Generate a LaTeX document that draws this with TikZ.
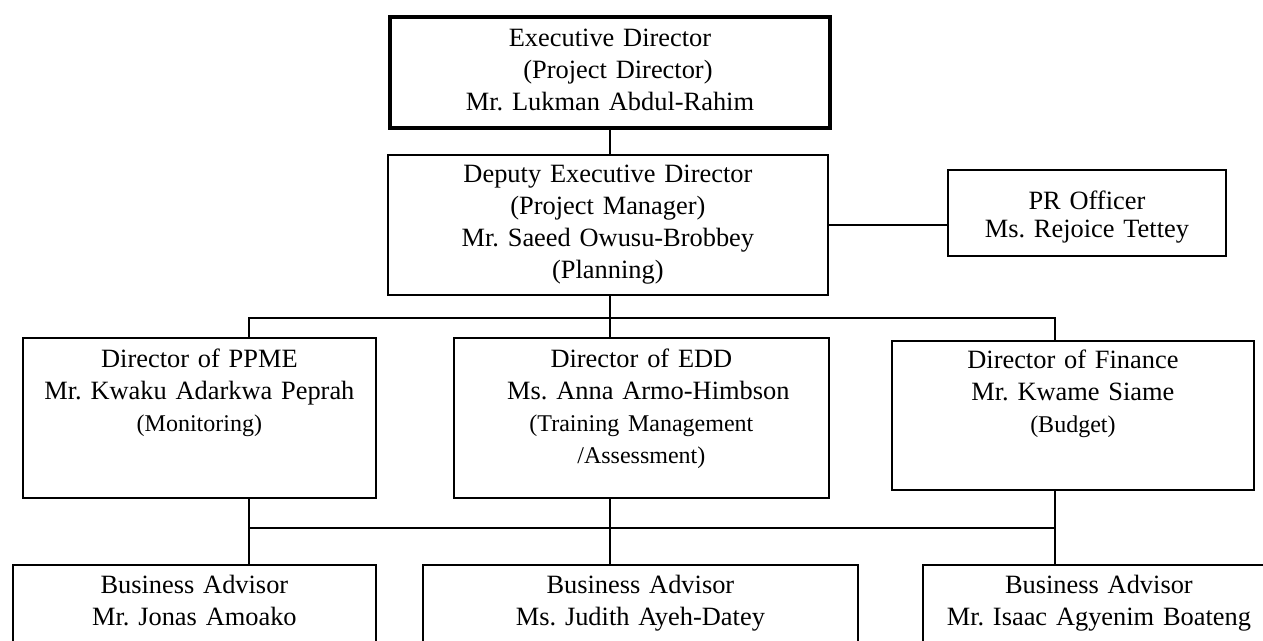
\documentclass[tikz,border=0pt]{standalone}
\usepackage{fontspec}
\setmainfont{Liberation Serif}
\usepackage{tikz}
\frenchspacing

\newcommand{\rolefont}{\fontsize{12}{16}\selectfont}

\begin{document}
\begin{tikzpicture}[x=0.5pt,y=-0.5pt,
		box/.style={draw,line width=0.9pt,anchor=north west,inner sep=0pt,align=center,
			font=\fontsize{13.2}{16}\selectfont,text height=15pt},
		link/.style={line width=0.9pt}]
		\useasboundingbox (0,0) rectangle (1263,641);
		% top level
		\node[box,line width=2pt,text width=220pt,text depth=40.5pt] (exec) at (388,15)
			{Executive Director\\\hspace*{8pt}(Project Director)\\Mr. Lukman Abdul-Rahim};
		\node[box,text width=220pt,text height=14pt,text depth=56pt] (deputy) at (387,154)
			{Deputy Executive Director\\(Project Manager)\\Mr. Saeed Owusu-Brobbey\\(Planning)};
		\node[box,text width=139pt,text height=20pt,text depth=23pt] (pr) at (947,169)
			{PR Officer\\[-2pt]Ms. Rejoice Tettey};
		% directors
		\node[box,text width=176.5pt,text depth=65pt] (ppme) at (22,337)
			{Director of PPME\\Mr. Kwaku Adarkwa Peprah\\{\rolefont (Monitoring)}};
		\node[box,text width=187.5pt,text depth=65pt] (edd) at (453,337)
			{Director of EDD\\\hspace*{7pt}Ms. Anna Armo-Himbson\\{\rolefont (Training Management}\\{\rolefont /Assessment)}};
		\node[box,text width=181pt,text height=14pt,text depth=60.5pt] (fin) at (891,340)
			{Director of Finance\\Mr. Kwame Siame\\{\rolefont (Budget)}};
		% business advisors
		\node[box,text width=181.5pt,text height=14.5pt,text depth=45pt] (adv1) at (12,564)
			{Business Advisor\\Mr. Jonas Amoako};
		\node[box,text width=217.5pt,text height=14.5pt,text depth=45pt] (adv2) at (422,564)
			{Business Advisor\\Ms. Judith Ayeh-Datey};
		\node[box,text width=176pt,text height=14.5pt,text depth=45pt] (adv3) at (922,564)
			{Business Advisor\\Mr. Isaac Agyenim Boateng};
		% bars
		\coordinate (upL) at (249,318);
		\coordinate (upM) at (610,318);
		\coordinate (upR) at (1055,318);
		\coordinate (loL) at (249,528);
		\coordinate (loR) at (1055,528);
		% connectors
		\draw[link] (exec.south -| upM) -- (deputy.north -| upM);
		\draw[link] (deputy.east) -- (deputy.east -| pr.west);
		\draw[link] (deputy.south -| upM) -- (edd.north -| upM);
		\draw[link] (ppme.north -| upL) -- (upL) -- (upR) -- (fin.north -| upR);
		\draw[link] (ppme.south -| loL) -- (adv1.north -| loL);
		\draw[link] (edd.south -| upM) -- (adv2.north -| upM);
		\draw[link] (fin.south -| loR) -- (adv3.north -| loR);
		\draw[link] (loL) -- (loR);
	\end{tikzpicture}
\end{document}
